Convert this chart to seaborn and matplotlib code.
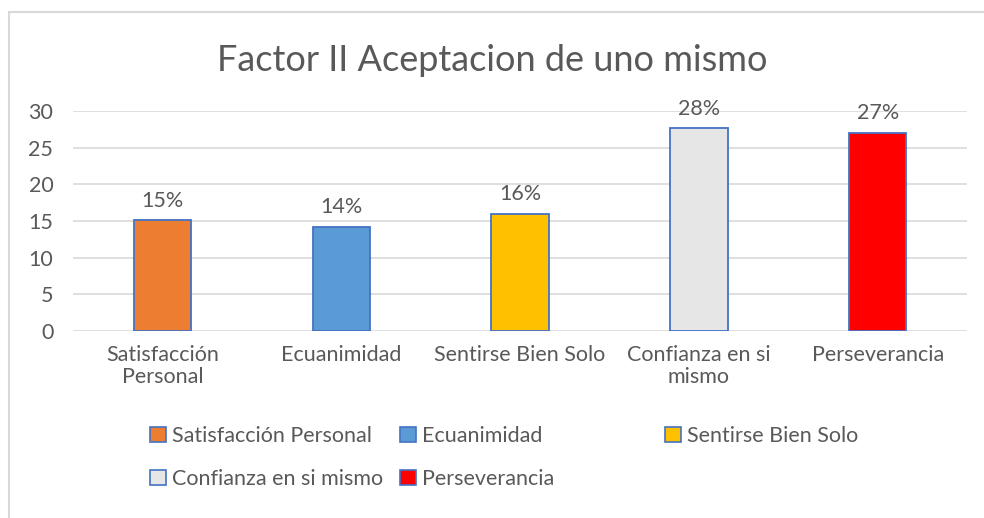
import matplotlib
matplotlib.use("Agg")
import matplotlib.pyplot as plt
import seaborn as sns
import pandas as pd
from matplotlib.patches import Patch, Rectangle

sns.set_theme(style="white")
plt.rcParams['font.family'] = ['Lato', 'DejaVu Sans']

# Porcentajes por dimension
data = pd.DataFrame({
    "dimension": ["Satisfacción Personal", "Ecuanimidad", "Sentirse Bien Solo",
                  "Confianza en si mismo", "Perseverancia"],
    "valor": [15.1, 14.2, 16.0, 27.6, 27.0],
    "etiqueta": ["15%", "14%", "16%", "28%", "27%"],
})
colores = ["#ED7D31", "#5B9BD5", "#FFC000", "#E7E6E6", "#FF0000"]
borde = "#4472C4"
texto = "#595959"
fs = 15.5

fig = plt.figure(figsize=(9.84, 5.18), dpi=100)
ax = fig.add_axes([0.074, 0.361, 0.909, 0.425])

sns.barplot(data=data, x="dimension", y="valor", hue="dimension",
            palette=colores, width=0.32, edgecolor=borde, linewidth=1.3,
            saturation=1, legend=False, ax=ax)

ax.set_ylim(0, 30)
ax.set_yticks(range(0, 31, 5))
ax.set_xlim(-0.5, 4.5)
ax.grid(axis="y", color="#D9D9D9", linewidth=1.2)
ax.set_axisbelow(True)
for s in ax.spines.values():
    s.set_visible(False)
ax.tick_params(axis="both", length=0, labelsize=fs, colors=texto)
ax.tick_params(axis="y", pad=14)
ax.tick_params(axis="x", pad=10)
ax.set_xticks(range(5))
ax.set_xticklabels(["Satisfacción\nPersonal", "Ecuanimidad", "Sentirse Bien Solo",
                    "Confianza en si\nmismo", "Perseverancia"], linespacing=1.15)
ax.set_xlabel("")
ax.set_ylabel("")

# etiquetas de porcentaje sobre cada barra
for i, (v, lab) in enumerate(zip(data["valor"], data["etiqueta"])):
    ax.text(i, v + 1.3, lab, ha="center", va="bottom", fontsize=fs, color=texto)

fig.text(0.5, 0.884, "Factor II Aceptacion de uno mismo", ha="center", va="center",
         fontsize=26, color=texto)

# leyenda: cada entrada en su sitio (como la coloca Excel)
pos_leyenda = [(150, 436), (400, 436), (665, 436), (150, 479), (400, 479)]
for nombre, c, (px, py) in zip(data["dimension"], colores, pos_leyenda):
    h = Patch(facecolor=c, edgecolor=borde, linewidth=1.2)
    fig.legend([h], [nombre], loc="center left",
               bbox_to_anchor=(px / 984, 1 - py / 518), frameon=False,
               borderpad=0, borderaxespad=0, fontsize=fs, labelcolor=texto,
               handlelength=0.75, handleheight=0.75, handletextpad=0.25)

# marco del area del grafico
fig.patches.append(Rectangle((9 / 984, -0.1), 1.2, 1 - 12 / 518 + 0.1,
                             transform=fig.transFigure, fill=False,
                             edgecolor="#D9D9D9", linewidth=1.5))

fig.savefig("out.png", dpi=100)
